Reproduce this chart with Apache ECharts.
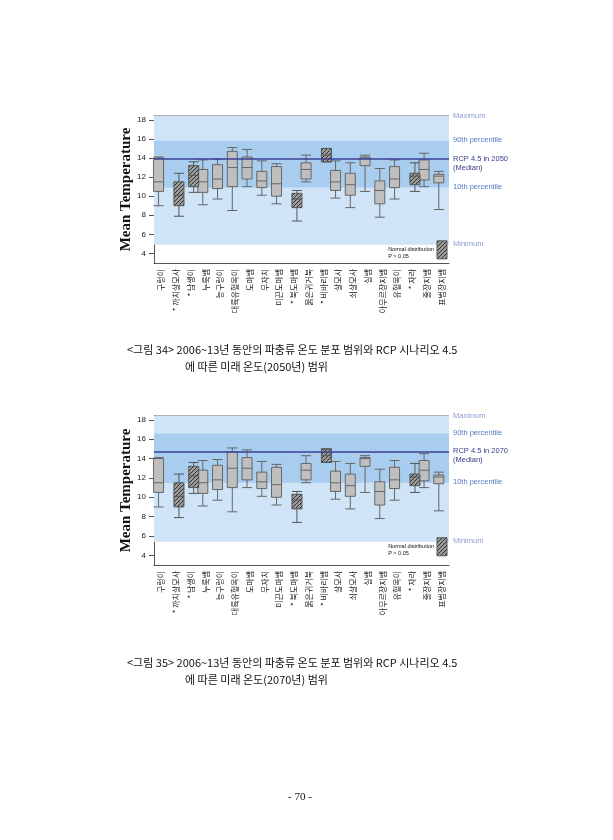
<!DOCTYPE html>
<html>
<head>
<meta charset="utf-8">
<script src="https://cdn.jsdelivr.net/npm/echarts@6/dist/echarts.min.js"></script>
<style>html,body{margin:0;padding:0;background:#fff}#page{width:613px;height:840px}</style>
</head>
<body>
<div id="page"></div>
<script>
// 종 이름
var species = ['구렁이', '* 까치살모사', '* 남생이', '누룩뱀', '능구렁이', '대륙유혈목이', '도마뱀', '무자치',
  '미끈도마뱀', '* 북도마뱀', '붉은귀거북', '* 비바리뱀', '살모사', '쇠살모사', '실뱀', '아무르장지뱀',
  '유혈목이', '* 자라', '줄장지뱀', '표범장지뱀'];
// [min, q1, median, q3, max], 정규분포 여부
var boxData = [
  [9.0, 10.5, 11.5, 14.0, 14.1, 0],
  [7.9, 9.0, 10.1, 11.5, 12.4, 1],
  [10.4, 11.0, 12.2, 13.2, 13.6, 1],
  [9.1, 10.4, 11.5, 12.8, 13.8, 0],
  [9.7, 10.8, 11.8, 13.3, 13.9, 0],
  [8.5, 11.0, 13.0, 14.7, 15.1, 0],
  [11.0, 11.8, 13.0, 14.1, 14.9, 0],
  [10.1, 10.9, 11.6, 12.6, 13.7, 0],
  [9.2, 10.0, 11.3, 13.1, 13.4, 0],
  [7.4, 8.8, 9.7, 10.3, 10.6, 1],
  [11.5, 11.8, 12.8, 13.5, 14.3, 0],
  [13.6, 13.6, 14.3, 15.0, 15.0, 1],
  [9.8, 10.6, 11.5, 12.7, 13.7, 0],
  [8.8, 10.1, 11.2, 12.4, 13.5, 0],
  [10.5, 13.2, 14.0, 14.1, 14.3, 0],
  [7.8, 9.2, 10.6, 11.6, 12.9, 0],
  [9.7, 10.9, 11.8, 13.1, 13.8, 0],
  [10.5, 11.2, 12.1, 12.4, 13.5, 1],
  [11.0, 11.7, 12.8, 13.8, 14.5, 0],
  [8.6, 11.4, 12.1, 12.3, 12.6, 0]
];
// 시나리오별 범위: 최소, 10%, 중앙값, 90%, 최대
var scenarios = [
  {year: 2050, min: 4.9, p10: 10.9, med: 13.9, p90: 15.8, max: 18.4, top: 116, h: 147},
  {year: 2070, min: 5.4, p10: 11.5, med: 14.7, p90: 16.6, max: 18.4, top: 416, h: 149}
];

// 빗금 패턴
var pc = document.createElement('canvas');
pc.width = 4; pc.height = 4;
var ctx = pc.getContext('2d');
ctx.fillStyle = '#9a9a9a'; ctx.fillRect(0, 0, 4, 4);
ctx.strokeStyle = '#333'; ctx.lineWidth = 1;
ctx.beginPath(); ctx.moveTo(0, 4); ctx.lineTo(4, 0); ctx.moveTo(-1, 1); ctx.lineTo(1, -1); ctx.moveTo(3, 5); ctx.lineTo(5, 3); ctx.stroke();
var hatch = {image: pc, repeat: 'repeat'};

var grid = [], xAxis = [], yAxis = [], series = [], graphic = [];
scenarios.forEach(function (s, i) {
  grid.push({left: 154, right: 164, top: s.top, height: s.h, show: false});
  xAxis.push({
    type: 'category', gridIndex: i, data: species,
    axisLine: {lineStyle: {color: '#555'}}, axisTick: {lineStyle: {color: '#555'}},
    axisLabel: {rotate: 90, fontSize: 8, color: '#222', interval: 0, fontFamily: 'Noto Sans CJK KR', margin: 6}
  });
  yAxis.push({
    type: 'value', gridIndex: i, min: 3, max: 18.4,
    axisLine: {show: true, lineStyle: {color: '#555'}},
    axisTick: {show: true, customValues: [4, 6, 8, 10, 12, 14, 16, 18]},
    axisLabel: {fontSize: 8, color: '#222', customValues: [4, 6, 8, 10, 12, 14, 16, 18]},
    splitLine: {show: false},
    name: 'Mean Temperature', nameLocation: 'middle', nameGap: 20,
    nameTextStyle: {fontFamily: 'Liberation Serif', fontWeight: 'bold', fontSize: 15, color: '#111'}
  });
  var plain = boxData.map(function (d) { return d[5] ? '-' : d.slice(0, 5); });
  var hat = boxData.map(function (d) { return d[5] ? d.slice(0, 5) : '-'; });
  series.push({
    type: 'boxplot', xAxisIndex: i, yAxisIndex: i, data: plain, boxWidth: [10, 10], z: 3,
    itemStyle: {color: '#bfbfbf', borderColor: '#666', borderWidth: 1},
    markArea: {silent: true, data: [
      [{yAxis: s.min, itemStyle: {color: '#cfe4f6'}}, {yAxis: s.max}],
      [{yAxis: s.p10, itemStyle: {color: '#a8cdee'}}, {yAxis: s.p90}]
    ]},
    markLine: {silent: true, symbol: 'none', label: {show: false},
      lineStyle: {color: '#3a3f95', width: 1.5, type: 'solid'}, data: [{yAxis: s.med}]}
  });
  series.push({
    type: 'boxplot', xAxisIndex: i, yAxisIndex: i, data: hat, boxWidth: [10, 10], z: 3,
    itemStyle: {color: hatch, borderColor: '#555', borderWidth: 1}
  });
  // 오른쪽 라벨
  var y0 = s.top, ph = s.h;
  function py(v) { return y0 + (18.4 - v) / 15.4 * ph; }
  var lab = [
    {v: s.max, t: 'Maximum', c: '#8d9bd3'},
    {v: s.p90, t: '90th percentile', c: '#5578c4'},
    {v: s.med, t: 'RCP 4.5 in ' + s.year + '\n(Median)', c: '#363c8c'},
    {v: s.p10, t: '10th percentile', c: '#5578c4'},
    {v: s.min, t: 'Minimum', c: '#8d9bd3'}
  ];
  lab.forEach(function (l) {
    graphic.push({type: 'text', left: 453, top: py(l.v) - 5,
      style: {text: l.t, fill: l.c, font: '7.5px Liberation Sans', lineHeight: 9}});
  });
  graphic.push({type: 'line', shape: {x1: 154, y1: y0, x2: 449, y2: y0}, style: {stroke: '#999', lineWidth: 1.5}});
  graphic.push({type: 'rect', shape: {x: 437, y: py(s.min) - 4, width: 10, height: 18},
    style: {fill: hatch, stroke: '#555'}, z: 10});
  graphic.push({type: 'text', right: 613 - 434, top: py(s.min) + 1,
    style: {text: 'Normal distribution\nP > 0.05', fill: '#111', font: '5.5px Liberation Sans', align: 'right', lineHeight: 7}, z: 10});
});

graphic.push(
  {type: 'text', left: 127, top: 344, style: {text: '<그림 34> 2006~13년 동안의 파충류 온도 분포 범위와 RCP 시나리오 4.5', font: '11px Noto Sans CJK KR', fill: '#111'}},
  {type: 'text', left: 185, top: 361, style: {text: '에 따른 미래 온도(2050년) 범위', font: '11px Noto Sans CJK KR', fill: '#111'}},
  {type: 'text', left: 127, top: 657, style: {text: '<그림 35> 2006~13년 동안의 파충류 온도 분포 범위와 RCP 시나리오 4.5', font: '11px Noto Sans CJK KR', fill: '#111'}},
  {type: 'text', left: 185, top: 674, style: {text: '에 따른 미래 온도(2070년) 범위', font: '11px Noto Sans CJK KR', fill: '#111'}},
  {type: 'text', left: 288, top: 792, style: {text: '- 70 -', font: '11px Liberation Serif', fill: '#111'}}
);

var pageChart = echarts.init(document.getElementById('page'));
pageChart.setOption({animation: false, grid: grid, xAxis: xAxis, yAxis: yAxis, series: series, graphic: graphic});
</script>
</body>
</html>
